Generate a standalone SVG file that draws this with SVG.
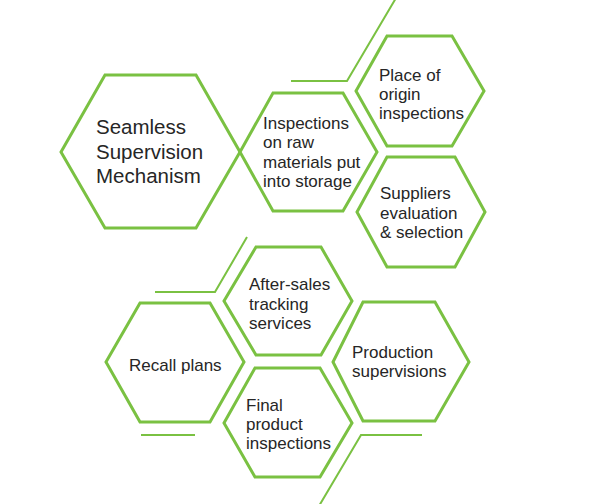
<svg xmlns="http://www.w3.org/2000/svg" width="590" height="504" viewBox="0 0 590 504">
<style>
.hex{fill:#ffffff;stroke:#7AC142;stroke-width:3;stroke-linejoin:miter}
.ln{fill:none;stroke:#7AC142;stroke-width:2}
.t{font-family:"Liberation Sans",Arial,sans-serif;font-size:17px;fill:#262626}
.big{font-size:20.5px}
</style>
<rect width="590" height="504" fill="#ffffff"/>
<g id="connectors">
<path class="ln" d="M291,81 H347 L396,-2"/>
<path class="ln" d="M155,292 H215 L247,237"/>
<path class="ln" d="M141,435 H195"/>
<path class="ln" d="M422,435 H361 L319,506"/>
</g>
<g id="node-main">
<polygon class="hex" points="105,75 196,75 240,152 196,228 105,228 61,152"/>
<text class="t big" x="96"><tspan x="96" y="134">Seamless</tspan><tspan x="96" y="159">Supervision</tspan><tspan x="96" y="183">Mechanism</tspan></text>
</g>
<g id="node-raw">
<polygon class="hex" points="273,93 343,93 377,152 343,211 273,211 240,152"/>
<text class="t"><tspan x="263" y="129">Inspections</tspan><tspan x="263" y="148">on raw</tspan><tspan x="263" y="168">materials put</tspan><tspan x="263" y="187">into storage</tspan></text>
</g>
<g id="node-origin">
<polygon class="hex" points="387,36 452,36 484,91 452,146 387,146 356,91"/>
<text class="t"><tspan x="379" y="81">Place of</tspan><tspan x="379" y="100">origin</tspan><tspan x="379" y="119">inspections</tspan></text>
</g>
<g id="node-suppliers">
<polygon class="hex" points="387,157 455,157 485,212 455,267 387,267 357,212"/>
<text class="t"><tspan x="380" y="199">Suppliers</tspan><tspan x="380" y="219">evaluation</tspan><tspan x="380" y="238">&amp; selection</tspan></text>
</g>
<g id="node-aftersales">
<polygon class="hex" points="256,247 321,247 352,301 321,355 256,355 224,301"/>
<text class="t"><tspan x="249" y="290">After-sales</tspan><tspan x="249" y="310">tracking</tspan><tspan x="249" y="329">services</tspan></text>
</g>
<g id="node-recall">
<polygon class="hex" points="140,303 210,303 244,362 210,422 140,422 106,362"/>
<text class="t" x="129" y="371">Recall plans</text>
</g>
<g id="node-production">
<polygon class="hex" points="363,302 435,302 469,362 435,421 363,421 333,362"/>
<text class="t"><tspan x="352" y="358">Production</tspan><tspan x="352" y="377">supervisions</tspan></text>
</g>
<g id="node-final">
<polygon class="hex" points="255,368 320,368 352,423 320,477 255,477 224,423"/>
<text class="t"><tspan x="246" y="411">Final</tspan><tspan x="246" y="430">product</tspan><tspan x="246" y="449">inspections</tspan></text>
</g>
</svg>
